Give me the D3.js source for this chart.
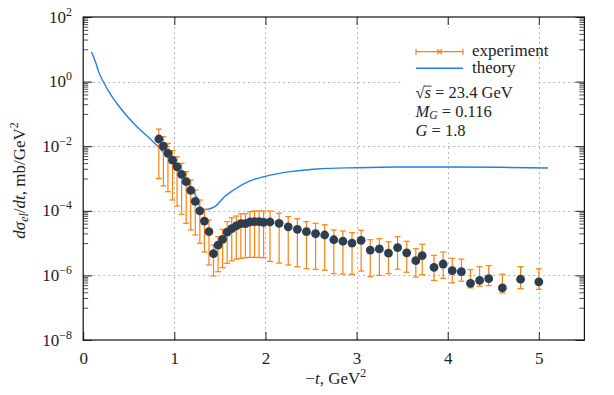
<!DOCTYPE html>
<html><head><meta charset="utf-8">
<script src="https://cdn.jsdelivr.net/npm/d3@7"></script>
<style>
html,body{margin:0;padding:0;background:#fff}
svg{display:block}
text{font-family:"Liberation Serif","Times New Roman",serif;fill:#222}
</style>
</head><body>
<svg id="c" width="614" height="395"></svg>
<script>
// ---- data ----
const tExp = [0.83,0.88,0.93,0.98,1.03,1.08,1.13,1.18,1.23,1.28,1.33,1.38,1.43,1.48,1.53,1.58,1.63,1.68,1.73,1.78,1.83,1.88,1.93,1.98,
  2.05,2.15,2.25,2.35,2.45,2.55,2.65,2.75,2.85,2.95,3.05,3.15,3.25,3.35,3.45,3.55,3.65,3.72,3.85,3.95,4.05,4.15,4.25,4.35,4.45,4.6,4.8,5.0];
const yExp = [1.67e-2,1.01e-2,6.0e-3,3.7e-3,2.3e-3,1.35e-3,8.0e-4,4.3e-4,1.97e-4,1.0e-4,4.8e-5,2.25e-5,4.7e-6,8.6e-6,1.31e-5,2.2e-5,2.8e-5,3.4e-5,4.0e-5,4.0e-5,4.5e-5,4.6e-5,4.6e-5,4.4e-5,
  4.5e-5,4.1e-5,3.2e-5,2.67e-5,2.25e-5,1.95e-5,1.78e-5,1.27e-5,1.14e-5,1.0e-5,1.22e-5,6.1e-6,6.6e-6,4.9e-6,7.2e-6,5.0e-6,2.85e-6,4.1e-6,1.78e-6,2.25e-6,1.4e-6,1.3e-6,5.7e-7,7.0e-7,7.9e-7,4.1e-7,7.6e-7,6.3e-7];
const yExpHi = [3.4e-2,1.97e-2,1.23e-2,7.3e-3,4.7e-3,2.96e-3,1.63e-3,9.0e-4,4.4e-4,2.16e-4,1.11e-4,5.2e-5,8.7e-6,1.58e-5,2.67e-5,4.6e-5,6.1e-5,6.9e-5,8.1e-5,8.1e-5,9.4e-5,9.9e-5,9.9e-5,9.9e-5,
  9.9e-5,8.4e-5,6.6e-5,5.7e-5,4.6e-5,4.1e-5,3.7e-5,2.55e-5,2.37e-5,2.1e-5,2.49e-5,1.27e-5,1.37e-5,1.1e-5,1.58e-5,1.14e-5,6.7e-6,9.2e-6,4.2e-6,5.3e-6,3.4e-6,3.2e-6,1.5e-6,1.86e-6,2.0e-6,1.1e-6,1.86e-6,1.6e-6];
const yExpLo = [9.9e-4,5.9e-4,3.9e-4,2.16e-4,1.41e-4,7.8e-5,4.1e-5,2.55e-5,1.78e-5,9.9e-6,5.3e-6,2.1e-6,9.6e-7,1.3e-6,1.73e-6,2.37e-6,2.8e-6,3.2e-6,3.4e-6,3.5e-6,3.6e-6,3.6e-6,3.6e-6,3.5e-6,
  2.7e-6,2.4e-6,2.1e-6,1.86e-6,1.61e-6,1.54e-6,1.44e-6,1.13e-6,1.1e-6,1.08e-6,1.37e-6,9.1e-7,1.0e-6,1.13e-6,1.55e-6,1.25e-6,8.9e-7,1.05e-6,7.0e-7,8.1e-7,5.9e-7,6.6e-7,4.1e-7,4.6e-7,4.8e-7,2.85e-7,3.9e-7,3.7e-7];

const tTheory = [0.09,0.14,0.17,0.23,0.30,0.37,0.48,0.59,0.74,0.89,1.03,1.18,1.24,1.30,1.35,1.40,1.46,1.50,1.55,1.65,1.83,2.01,2.27,2.56,3.0,3.47,4.0,4.57,5.1];
const yTheory = [8.4,3.7,2.0,0.89,0.40,0.21,0.086,0.040,0.0164,0.0060,0.00207,5.6e-4,2.8e-4,1.1e-4,1.1e-4,1.18e-4,1.45e-4,1.9e-4,2.7e-4,4.4e-4,8.4e-4,1.19e-3,1.63e-3,1.97e-3,2.16e-3,2.27e-3,2.27e-3,2.22e-3,2.11e-3];

const xTicks = [0,1,2,3,4,5];
const yTickExp = [2,0,-2,-4,-6,-8];
const yMinorDecades = [1,-1,-3,-5,-7];
const seriesNames = ["experiment","theory"];
const infoLines = ["23.4 GeV","0.116","1.8"];

// ---- layout ----
const P = {l:83.2, r:584.4, t:17, b:340};
const FS = 17, FI = 16.5;
const C_EXP = "#ff7f0e", C_TH = "#1f80ea", C_PT = "#2c3e50";

const svg = d3.select("#c");
const x = d3.scaleLinear().domain([0,5.5]).range([P.l,P.r]);
const y = d3.scaleLog().domain([1e-8,1e2]).range([P.b,P.t]);
const yMajor = yTickExp.map(e => Math.pow(10,e));
const yMinor = yMinorDecades.flatMap(j => d3.range(1,10).map(k => k*Math.pow(10,j)));

// grid
const grid = svg.append("g").attr("stroke","#b5b5b5").attr("stroke-width",1).attr("stroke-dasharray","2,3");
xTicks.filter(v => v>0).forEach(v => {
  const px = Math.round(x(v))+0.5;
  grid.append("line").attr("x1",px).attr("x2",px).attr("y1",P.t).attr("y2",P.b);
});
yMajor.filter(v => v<1e2 && v>1e-8).forEach(v => {
  const py = Math.round(y(v))+0.5;
  grid.append("line").attr("x1",P.l).attr("x2",P.r).attr("y1",py).attr("y2",py);
});

// theory curve
const line = d3.line().x((d,i)=>x(tTheory[i])).y(d=>y(d)).curve(d3.curveMonotoneX);
svg.append("path").datum(yTheory).attr("d",line).attr("fill","none")
  .attr("stroke",C_TH).attr("stroke-width",1.4);

// error bars
const eb = svg.append("g").attr("stroke",C_EXP).attr("stroke-width",1.2).attr("fill","none");
tExp.forEach((t,i) => {
  const px = x(t);
  eb.append("line").attr("x1",px).attr("x2",px).attr("y1",y(yExpLo[i])).attr("y2",y(yExpHi[i]));
  [yExpLo[i],yExpHi[i]].forEach(v => eb.append("line").attr("x1",px-3).attr("x2",px+3).attr("y1",y(v)).attr("y2",y(v)));
});
// points
svg.append("g").selectAll("circle").data(yExp).join("circle")
  .attr("cx",(d,i)=>x(tExp[i])).attr("cy",d=>y(d)).attr("r",4.4).attr("fill",C_PT);

// axes ticks (inward, mirrored)
function styleAxis(g){ g.select(".domain").remove(); g.selectAll("line").attr("stroke","#222"); }
svg.append("g").attr("transform",`translate(0,${P.b})`)
  .call(d3.axisBottom(x).tickValues(xTicks).tickSizeInner(-8).tickSizeOuter(0).tickPadding(12).tickFormat(d3.format("d")))
  .call(styleAxis)
  .call(g => g.selectAll("text").attr("font-size",FS).attr("font-family",null).attr("fill","#222"));
svg.append("g").attr("transform",`translate(0,${P.t})`)
  .call(d3.axisTop(x).tickValues(xTicks).tickSizeInner(-8).tickSizeOuter(0).tickFormat(""))
  .call(styleAxis);
[[P.l,d3.axisLeft],[P.r,d3.axisRight]].forEach(([px,ax]) => {
  svg.append("g").attr("transform",`translate(${px},0)`)
    .call(ax(y).tickValues(yMajor).tickSizeInner(-9).tickSizeOuter(0).tickFormat(""))
    .call(styleAxis);
  svg.append("g").attr("transform",`translate(${px},0)`)
    .call(ax(y).tickValues(yMinor).tickSizeInner(-5).tickSizeOuter(0).tickFormat(""))
    .call(styleAxis).call(g => g.selectAll("line").attr("stroke-width",0.8));
});
// y tick labels 10^k
yTickExp.forEach(e => {
  const t = svg.append("text").attr("x",72).attr("y",y(Math.pow(10,e))+5.5).attr("text-anchor","end").attr("font-size",FS);
  t.append("tspan").text("10");
  t.append("tspan").text(String(e).replace("-","\u2212")).attr("font-size",FS*0.7).attr("dy",-7);
});

// frame
svg.append("rect").attr("x",P.l).attr("y",P.t).attr("width",P.r-P.l).attr("height",P.b-P.t)
  .attr("fill","none").attr("stroke","#111").attr("stroke-width",1.2);

// rich text helper
function rich(sel, parts, fs){
  let cur = 0;
  parts.forEach(p => {
    const shift = p.s==="sup" ? -0.42*fs : p.s==="sub" ? 0.15*fs : 0;
    const ts = sel.append("tspan").text(p.t).attr("dy", shift-cur);
    cur = shift;
    if (p.i) ts.attr("font-style","italic");
    if (p.s) ts.attr("font-size", fs*0.7);
  });
  return sel;
}

// axis titles
rich(svg.append("text").attr("x",(P.l+P.r)/2+2).attr("y",384).attr("text-anchor","middle").attr("font-size",FS),
  [{t:"\u2212"},{t:"t",i:1},{t:", GeV"},{t:"2",s:"sup"}], FS);
rich(svg.append("text").attr("transform",`translate(25,${(P.t+P.b)/2+2}) rotate(-90)`).attr("text-anchor","middle").attr("font-size",FS),
  [{t:"d\u03c3",i:1},{t:"el",i:1,s:"sub"},{t:"/"},{t:"dt",i:1},{t:", mb/GeV"},{t:"2",s:"sup"}], FS);

// legend + info box
svg.append("rect").attr("x",401).attr("y",28).attr("width",136).attr("height",115).attr("fill","#fff");
const lg = svg.append("g");
const ly1 = 51.7, ly2 = 68.3;
lg.append("line").attr("x1",416).attr("x2",463).attr("y1",ly1).attr("y2",ly1).attr("stroke",C_EXP).attr("stroke-width",1.2);
[416,463].forEach(px => lg.append("line").attr("x1",px).attr("x2",px).attr("y1",ly1-3).attr("y2",ly1+3).attr("stroke",C_EXP).attr("stroke-width",1.2));
lg.append("path").attr("d",`M437,${ly1-2.5}L442,${ly1+2.5}M437,${ly1+2.5}L442,${ly1-2.5}`).attr("stroke",C_EXP).attr("stroke-width",1.2);
lg.append("line").attr("x1",416).attr("x2",463).attr("y1",ly2).attr("y2",ly2).attr("stroke",C_TH).attr("stroke-width",1.4);
lg.append("text").attr("x",472).attr("y",55.5).attr("font-size",FS).text(seriesNames[0]);
lg.append("text").attr("x",472).attr("y",73.3).attr("font-size",FS).text(seriesNames[1]);

const l1 = svg.append("text").attr("x",415.5).attr("y",98.3).attr("font-size",FI);
l1.append("tspan").text("\u221a");
l1.append("tspan").text("s").attr("font-style","italic");
l1.append("tspan").text(" = " + infoLines[0]);
{
  const n = l1.node();
  const s0 = n.getStartPositionOfChar(1), s1 = n.getEndPositionOfChar(1);
  svg.append("line").attr("x1",s0.x-0.5).attr("x2",s1.x+0.5).attr("y1",98.3-12.2).attr("y2",98.3-12.2).attr("stroke","#222").attr("stroke-width",0.9);
}
rich(svg.append("text").attr("x",415.5).attr("y",116.5).attr("font-size",FI),
  [{t:"M",i:1},{t:"G",i:1,s:"sub"},{t:" = " + infoLines[1]}], FI);
rich(svg.append("text").attr("x",415.5).attr("y",136).attr("font-size",FI),
  [{t:"G",i:1},{t:" = " + infoLines[2]}], FI);
</script>
</body></html>
